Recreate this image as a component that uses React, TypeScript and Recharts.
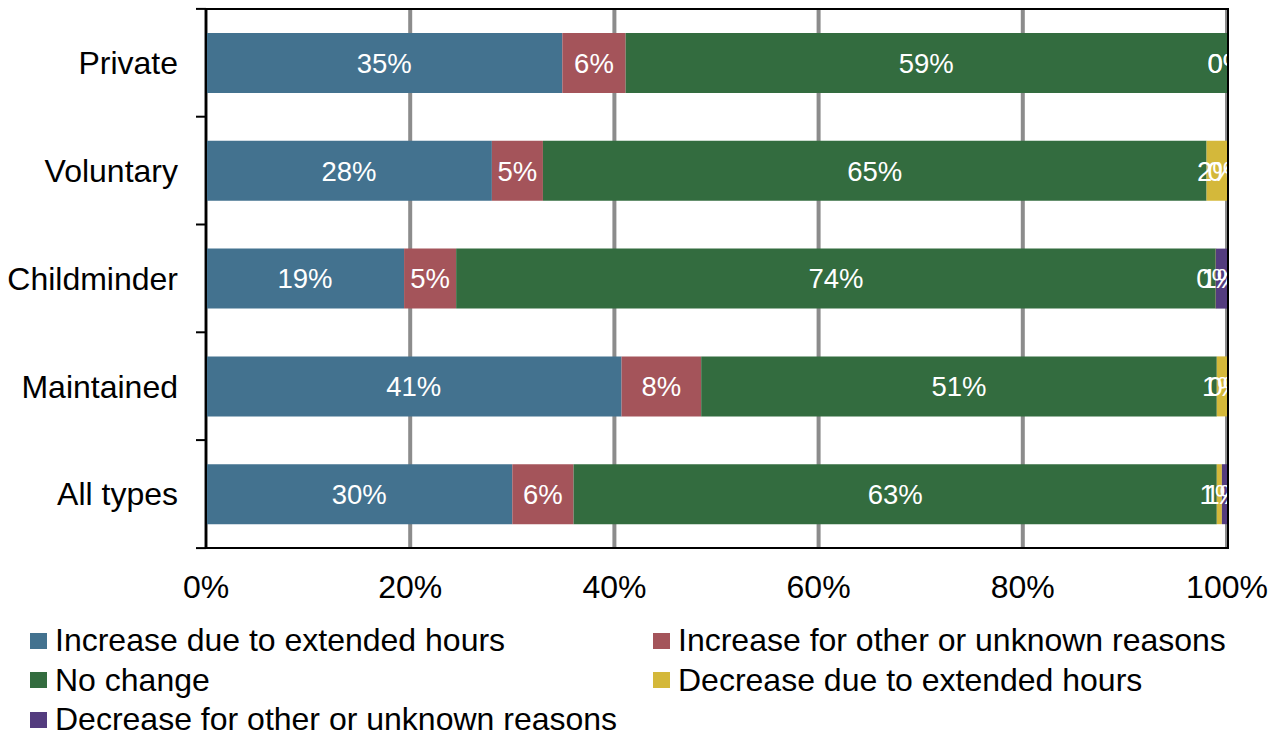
import { Bar, BarChart, CartesianGrid, LabelList, XAxis, YAxis } from "recharts";

const FONT = '"Liberation Sans", Arial, sans-serif';

const categories = ["Private", "Voluntary", "Childminder", "Maintained", "All types"];

const seriesNames = [
  "Increase due to extended hours",
  "Increase for other or unknown reasons",
  "No change",
  "Decrease due to extended hours",
  "Decrease for other or unknown reasons",
];
const seriesColors = ["#43728f", "#a4545a", "#336c3f", "#d4b83a", "#533c7e"];

// percentage of providers per category, one array per series
const incExtended = [34.9, 28.0, 19.4, 40.7, 30.0];
const incOther = [6.2, 5.0, 5.1, 7.8, 6.0];
const noChange = [58.9, 65.0, 74.4, 50.5, 63.0];
const decExtended = [0, 2.0, 0, 1.0, 0.5];
const decOther = [0, 0, 1.1, 0, 0.5];

const xTicks = [0, 20, 40, 60, 80, 100];

const seriesValues = [incExtended, incOther, noChange, decExtended, decOther];
const keys = ["s0", "s1", "s2", "s3", "s4"];

const rows = categories.map((name, i) => {
  const row: Record<string, string | number> = { name };
  seriesValues.forEach((vals, s) => {
    row[keys[s]] = vals[i];
  });
  return row;
});

const HALF_BAND = 54;

function CategoryTick(props: any) {
  const { y, payload, index } = props;
  return (
    <g>
      <text
        x={178}
        y={y}
        dy="0.355em"
        textAnchor="end"
        fontSize={32}
        fontFamily={FONT}
        fill="#000"
      >
        {payload.value}
      </text>
      <line x1={196} x2={206} y1={y - HALF_BAND} y2={y - HALF_BAND} stroke="#000" strokeWidth={2} />
      {index === categories.length - 1 && (
        <line x1={196} x2={206} y1={y + HALF_BAND} y2={y + HALF_BAND} stroke="#000" strokeWidth={2} />
      )}
    </g>
  );
}

export default function App() {
  return (
    <div
      style={{
        position: "absolute",
        left: 0,
        top: 0,
        width: 1279,
        height: 736,
        background: "#fff",
        fontFamily: FONT,
      }}
    >
      <BarChart
        width={1279}
        height={610}
        data={rows}
        layout="vertical"
        margin={{ top: 9, right: 52, left: 0, bottom: 0 }}
        barSize={60}
      >
        <CartesianGrid horizontal={false} vertical stroke="#8c8c8c" strokeWidth={4} />
        <XAxis
          type="number"
          domain={[0, 100]}
          ticks={xTicks}
          tickFormatter={(v: number) => `${v}%`}
          axisLine={false}
          tickLine={false}
          tickSize={0}
          tickMargin={27}
          height={62}
          tick={{ fontSize: 32, fill: "#000", fontFamily: FONT }}
          interval={0}
        />
        <YAxis
          type="category"
          dataKey="name"
          width={206}
          axisLine={{ stroke: "#000", strokeWidth: 2 }}
          tickLine={false}
          tick={<CategoryTick />}
          interval={0}
        />
        {keys.map((k, s) => (
          <Bar
            key={k}
            dataKey={k}
            stackId="a"
            fill={seriesColors[s]}
            minPointSize={0.5}
            isAnimationActive={false}
          >
            <LabelList
              dataKey={k}
              position="center"
              fill="#fff"
              fontSize={27.5}
              fontFamily={FONT}
              formatter={(v: any) => `${Math.round(Number(v))}%`}
            />
          </Bar>
        ))}
      </BarChart>

      <div
        style={{
          position: "absolute",
          left: 205,
          top: 8,
          width: 1024,
          height: 541,
          border: "2px solid #000",
          boxSizing: "border-box",
          pointerEvents: "none",
        }}
      />

      <div
        style={{
          position: "absolute",
          left: 30,
          top: 621,
          display: "grid",
          gridTemplateColumns: "623px 600px",
          rowGap: 0,
        }}
      >
        {seriesNames.map((n, s) => (
          <div
            key={n}
            style={{
              display: "flex",
              alignItems: "center",
              height: 39.5,
              fontSize: 32,
              color: "#000",
              whiteSpace: "nowrap",
            }}
          >
            <span
              style={{
                width: 17,
                height: 16,
                background: seriesColors[s],
                marginRight: 8,
                flexShrink: 0,
              }}
            />
            {n}
          </div>
        ))}
      </div>
    </div>
  );
}
